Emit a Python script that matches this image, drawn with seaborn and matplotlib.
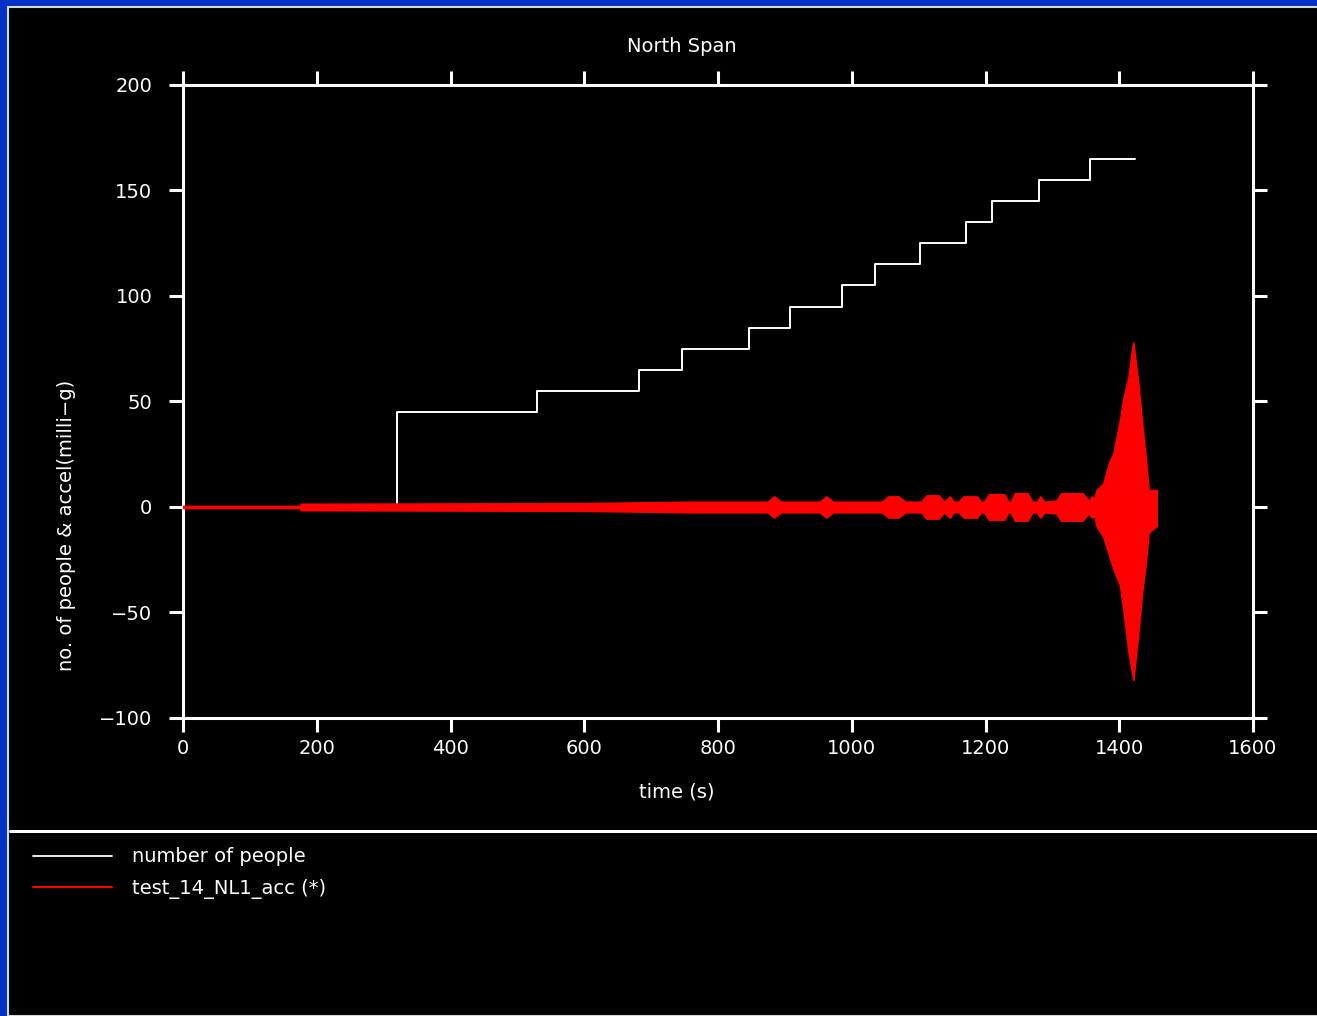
import matplotlib
matplotlib.use("Agg")
import matplotlib.pyplot as plt
from matplotlib.lines import Line2D
from matplotlib.patches import Rectangle
import seaborn as sns

# number of people on the span (step changes)
people_time = [0, 320, 529, 682, 746, 846, 908, 985, 1035, 1102, 1171, 1210, 1280, 1356, 1423]
people_count = [0, 45, 55, 65, 75, 85, 95, 105, 115, 125, 135, 145, 155, 165, 165]

# envelope of the acceleration record (milli-g)
acc_time = [0, 175, 176, 600, 760,
            874, 884, 894,
            952, 962, 972,
            1045, 1055, 1070, 1080,
            1104, 1112, 1130, 1138,
            1147, 1152,
            1160, 1167, 1187, 1193,
            1198, 1205, 1228, 1234,
            1238, 1244, 1263, 1270,
            1277, 1282, 1288,
            1306, 1313, 1345, 1354,
            1359, 1363,
            1366, 1376, 1386, 1391, 1401, 1406, 1414, 1419, 1421, 1429, 1434, 1439, 1444, 1456]
acc_upper = [0.5, 0.5, 1.5, 1.8, 2.5,
             2.5, 5, 2.5,
             2.5, 5, 2.5,
             2.5, 5, 5, 2.5,
             2.5, 5.5, 5.5, 2.5,
             5, 2.5,
             2.5, 5, 5, 2.5,
             2.5, 6, 6, 2.5,
             2.5, 6.5, 6.5, 2.5,
             2.5, 5, 2.5,
             3, 6.5, 6.5, 3,
             5, 4,
             8, 11, 22, 25, 41, 51, 62, 74, 78, 57, 40, 25, 8, 8]
acc_lower = [-0.5, -0.5, -1.5, -1.8, -2.5,
             -2.5, -5, -2.5,
             -2.5, -5, -2.5,
             -2.5, -5, -5, -2.5,
             -2.5, -5.5, -5.5, -2.5,
             -5, -2.5,
             -2.5, -5, -5, -2.5,
             -2.5, -6, -6, -2.5,
             -2.5, -6.5, -6.5, -2.5,
             -2.5, -5, -2.5,
             -3, -6.5, -6.5, -3,
             -5, -4,
             -9, -14, -24, -29, -37, -48, -69, -78, -82, -58, -41, -28, -12, -9]

x_ticks = [0, 200, 400, 600, 800, 1000, 1200, 1400, 1600]
y_ticks = [-100, -50, 0, 50, 100, 150, 200]

sns.set_style("dark", rc={"axes.facecolor": "black", "figure.facecolor": "#0030c8",
                          "axes.edgecolor": "white", "text.color": "white",
                          "xtick.color": "white", "ytick.color": "white",
                          "axes.labelcolor": "white"})
plt.rcParams["font.family"] = ["DejaVu Sans"]

W, H = 1317, 1016
fig = plt.figure(figsize=(W / 100, H / 100), dpi=100)
fig.patch.set_facecolor("#0030c8")

# black panel with thin light edge, kept behind the axes
fig.patches.append(Rectangle((8 / W, 0), 1.0, 1 - 7 / H, transform=fig.transFigure,
                             facecolor="black", edgecolor="#d8d8d8", linewidth=1.5, zorder=-10))
# separator between plot and legend
fig.add_artist(Line2D([10 / W, 1.0], [1 - 831 / H, 1 - 831 / H], transform=fig.transFigure,
                      color="white", linewidth=2.2))

ax = fig.add_axes([183 / W, 1 - 718 / H, (1253 - 183) / W, (718 - 85) / H])
ax.set_facecolor("black")

sns.lineplot(x=people_time, y=people_count, drawstyle="steps-post", color="white",
             linewidth=1.4, ax=ax, zorder=2)
ax.fill_between(acc_time, acc_lower, acc_upper, color="red", linewidth=1.2,
                edgecolor="red", zorder=3)

ax.set_xlim(0, 1600)
ax.set_ylim(-100, 200)
ax.set_xticks(x_ticks)
ax.set_yticks(y_ticks)
ax.set_yticklabels([str(v).replace("-", "\u2212") for v in y_ticks])
ax.grid(False)
for s in ax.spines.values():
    s.set_visible(True)
    s.set_color("white")
    s.set_linewidth(2.2)
ax.tick_params(axis="both", which="both", direction="out", length=10, width=2.2,
               top=True, right=True, bottom=True, left=True,
               labeltop=False, labelright=False, labelsize=14, colors="white")
ax.tick_params(axis="y", pad=12)
ax.tick_params(axis="x", pad=5)

ax.set_xlabel("")
ax.set_ylabel("")
fig.text(682 / W, 1 - 46 / H, "North Span", ha="center", va="center", fontsize=14, color="white")
fig.text(677 / W, 1 - 792 / H, "time (s)", ha="center", va="center", fontsize=14, color="white")
fig.text(67 / W, 1 - 525 / H, "no. of people & accel(milli\u2212g)", ha="center", va="center",
         rotation=90, fontsize=14, color="white")

handles = [Line2D([], [], color="white", linewidth=1.3),
           Line2D([], [], color="red", linewidth=1.5)]
fig.legend(handles, ["number of people", "test_14_NL1_acc (*)"], loc="upper left",
           bbox_to_anchor=(15 / W, 1 - 830 / H), frameon=False, fontsize=14,
           labelcolor="white", handlelength=4.1, handletextpad=1.0, labelspacing=0.62)

fig.savefig("out.png", dpi=100, facecolor=fig.get_facecolor())
